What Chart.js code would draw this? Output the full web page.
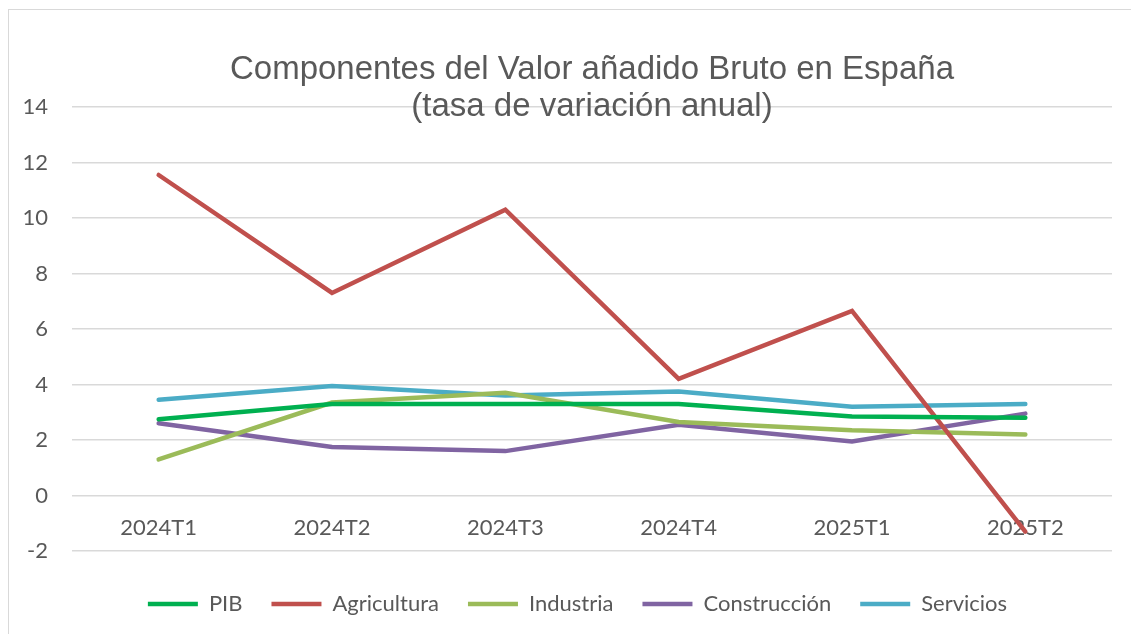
<!DOCTYPE html>
<html>
<head>
<meta charset="utf-8">
<script src="https://cdn.jsdelivr.net/npm/chart.js@4.4.1/dist/chart.umd.min.js"></script>
<style>
  html, body { margin: 0; padding: 0; background: #fff; overflow: hidden; }
  .frame {
    position: absolute; left: 8px; top: 9px;
    width: 1131px; height: 634px;
    border: 1px solid #d9d9d9;
  }
  .frame canvas { display: block; }
</style>
</head>
<body>
<div class="frame"><canvas id="chart" width="1131" height="634"></canvas></div>
<script>
const categories = ["2024T1", "2024T2", "2024T3", "2024T4", "2025T1", "2025T2"];
const pib = [2.75, 3.3, 3.3, 3.3, 2.85, 2.8];
const agricultura = [11.55, 7.3, 10.3, 4.2, 6.65, -1.3];
const industria = [1.3, 3.35, 3.7, 2.65, 2.35, 2.2];
const construccion = [2.6, 1.75, 1.6, 2.55, 1.95, 2.95];
const servicios = [3.45, 3.95, 3.6, 3.75, 3.2, 3.3];
const yTicks = [-2, 0, 2, 4, 6, 8, 10, 12, 14];

const gray = "#595959";
const labelFont = { family: "Lato", size: 22 };

const line = (label, data, color) => ({
  label,
  data,
  borderColor: color,
  backgroundColor: color,
  borderWidth: 4.5,
  borderCapStyle: "round",
  borderJoinStyle: "miter",
  pointRadius: 0,
  tension: 0,
  fill: false,
});

new Chart(document.getElementById("chart"), {
  type: "line",
  data: {
    labels: categories,
    datasets: [
      line("PIB", pib, "#00b050"),
      line("Agricultura", agricultura, "#c0504d"),
      line("Industria", industria, "#9bbb59"),
      line("Construcción", construccion, "#8064a2"),
      line("Servicios", servicios, "#4bacc6"),
    ],
  },
  options: {
    responsive: false,
    animation: false,
    layout: { padding: { left: 6, right: 0, top: 0, bottom: 19 } },
    plugins: {
      tooltip: { enabled: false },
      title: {
        display: true,
        fullSize: false,
        text: ["Componentes del Valor añadido Bruto en España", "(tasa de variación anual)"],
        color: gray,
        font: { family: "Liberation Sans", size: 33, weight: "normal", lineHeight: 37 / 33 },
        padding: { top: 41, bottom: -18 },
      },
      legend: {
        position: "bottom",
        title: { display: true, text: "", font: { size: 13, lineHeight: 1 }, padding: 0 },
        labels: {
          usePointStyle: true,
          pointStyle: "line",
          pointStyleWidth: 50,
          padding: 29,
          color: gray,
          font: labelFont,
        },
      },
    },
    scales: {
      x: {
        offset: true,
        position: { y: 0 },
        grid: { display: false, drawTicks: false },
        border: { display: false },
        ticks: { color: gray, font: labelFont, padding: 19, maxRotation: 0 },
      },
      y: {
        min: -2,
        max: 14,
        afterFit: (s) => { s.width = 57; },
        afterBuildTicks: (s) => { s.ticks = yTicks.map((v) => ({ value: v })); },
        grid: { color: "#d9d9d9", lineWidth: 1.5, drawTicks: false },
        border: { display: false },
        ticks: { color: gray, font: labelFont, padding: 24 },
      },
      // empty right margin, keeps the plot clear of the frame edge
      yRight: {
        type: "linear",
        position: "right",
        grid: { display: false, drawTicks: false },
        border: { display: false },
        ticks: { display: false },
        afterFit: (s) => { s.width = 28; },
      },
    },
  },
});
</script>
</body>
</html>
